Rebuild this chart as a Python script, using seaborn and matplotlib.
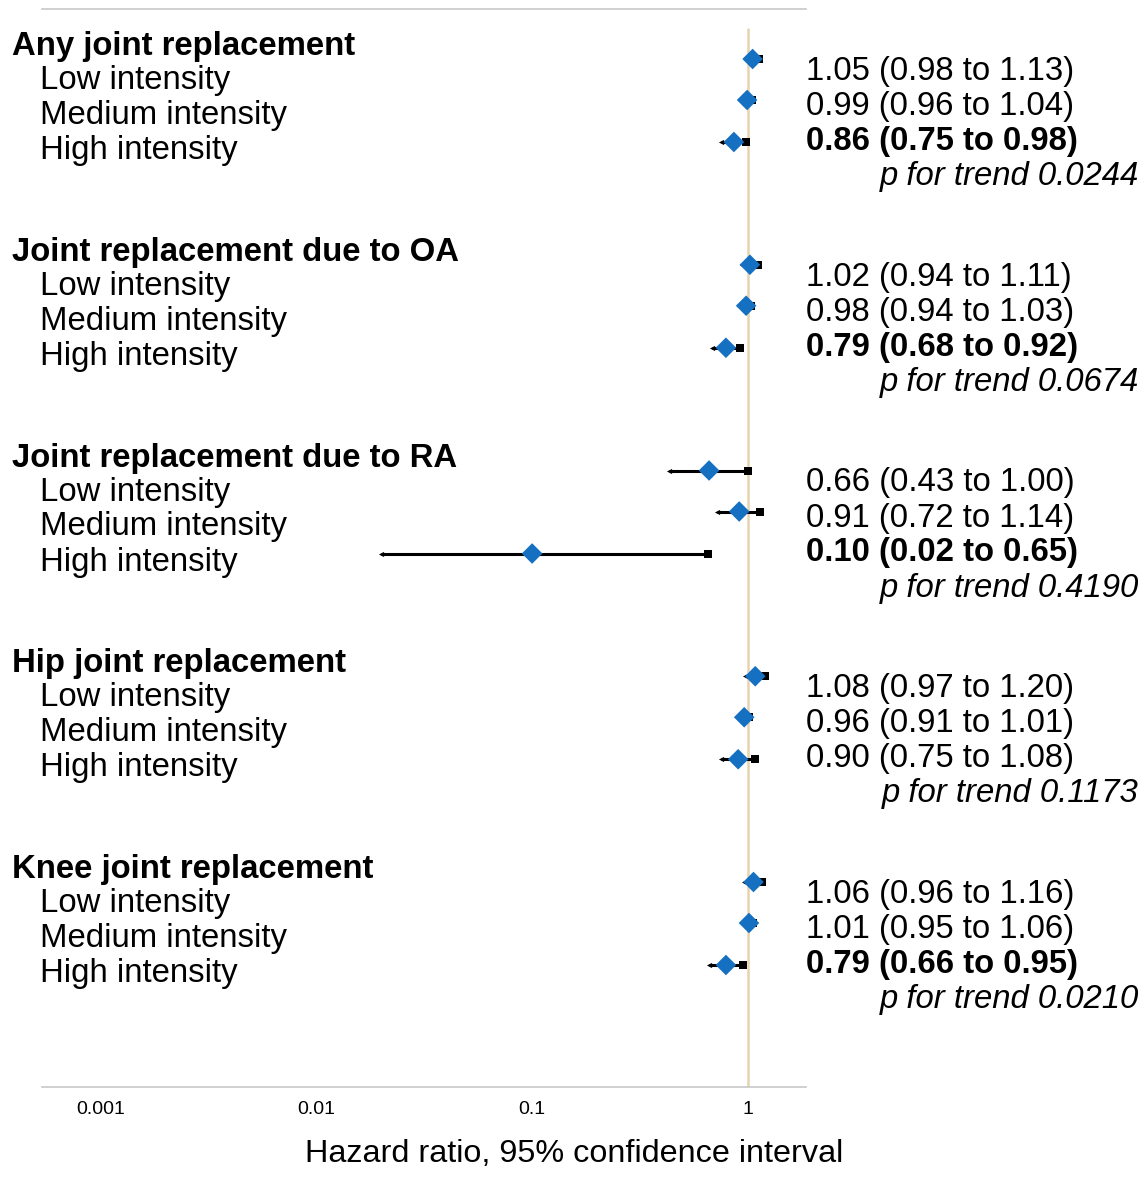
import matplotlib
matplotlib.use("Agg")
import matplotlib.pyplot as plt
import matplotlib.transforms as mtransforms
import seaborn as sns
import pandas as pd

# data
groups = ["Any joint replacement", "Joint replacement due to OA",
          "Joint replacement due to RA", "Hip joint replacement",
          "Knee joint replacement"]
levels = ["Low intensity", "Medium intensity", "High intensity"]
hr = [[1.05, 0.99, 0.86], [1.02, 0.98, 0.79], [0.66, 0.91, 0.10],
      [1.08, 0.96, 0.90], [1.06, 1.01, 0.79]]
ci_low = [[0.98, 0.96, 0.75], [0.94, 0.94, 0.68], [0.43, 0.72, 0.02],
          [0.97, 0.91, 0.75], [0.96, 0.95, 0.66]]
ci_high = [[1.13, 1.04, 0.98], [1.11, 1.03, 0.92], [1.00, 1.14, 0.65],
           [1.20, 1.01, 1.08], [1.16, 1.06, 0.95]]
p_trend = ["0.0244", "0.0674", "0.4190", "0.1173", "0.0210"]
xticks = [0.001, 0.01, 0.1, 1]
xticklabels = ["0.001", "0.01", "0.1", "1"]

sns.set_style("white")
plt.rcParams["font.family"] = ["Liberation Sans", "DejaVu Sans"]
plt.rcParams["text.color"] = "black"
plt.rcParams["xtick.color"] = "black"

W, H = 1148, 1177
fig = plt.figure(figsize=(W / 100, H / 100), dpi=100)
ax = fig.add_axes([42 / W, (H - 1087) / H, (806 - 42) / W, (1087 - 9) / H])
ax.set_xscale("log")
ax.set_xlim(10 ** -3.27, 10 ** 0.2685)
ax.set_ylim(1087, 9)  # y in pixel rows, top down

# layout (pixel rows)
group_step = 205.75
first_base = 55
mark_off = [4, 45, 87]
label_off = [34, 69, 104]
value_off = [25, 60, 95]
p_off = 130

rows = []
for g, name in enumerate(groups):
    base = first_base + g * group_step
    for k, lev in enumerate(levels):
        rows.append(dict(group=name, level=lev, hr=hr[g][k], lo=ci_low[g][k],
                         hi=ci_high[g][k], y=base + mark_off[k]))
df = pd.DataFrame(rows)

# reference line at HR = 1
ax.vlines(1, 28, 1087, color="#e6d2b0", lw=1.8, zorder=1)

# confidence intervals
ax.hlines(df["y"], df["lo"], df["hi"], color="black", lw=2.2, zorder=2)
ax.scatter(df["hi"], df["y"], marker="s", s=30, color="black", zorder=3, lw=0)
ax.scatter(df["lo"], df["y"], marker="<", s=14, color="black", zorder=3, lw=0)
sns.scatterplot(data=df, x="hr", y="y", marker="D", s=110, color="#1670c2",
                edgecolor="none", zorder=4, ax=ax, legend=False)

# texts
tr = mtransforms.blended_transform_factory(fig.transFigure, ax.transData)
fs = 23.7
for g, name in enumerate(groups):
    base = first_base + g * group_step
    ax.text(12 / W, base, name, transform=tr, fontsize=fs, fontweight="bold",
            va="baseline", ha="left", clip_on=False)
    for k, lev in enumerate(levels):
        ax.text(40 / W, base + label_off[k], lev, transform=tr, fontsize=fs,
                va="baseline", ha="left", clip_on=False)
        txt = f"{hr[g][k]:.2f} ({ci_low[g][k]:.2f} to {ci_high[g][k]:.2f})"
        bold = ci_high[g][k] < 1
        ax.text(806 / W, base + value_off[k], txt, transform=tr, fontsize=fs,
                fontweight="bold" if bold else "normal",
                va="baseline", ha="left", clip_on=False)
    ax.text(1139 / W, base + p_off, f"p for trend {p_trend[g]}", transform=tr,
            fontsize=fs, style="italic", va="baseline", ha="right", clip_on=False)

# axes styling
ax.set_yticks([])
ax.set_xticks(xticks)
ax.set_xticklabels(xticklabels, fontsize=14)
ax.minorticks_off()
ax.tick_params(axis="x", length=0, pad=10)
for side in ["left", "right"]:
    ax.spines[side].set_visible(False)
for side in ["top", "bottom"]:
    ax.spines[side].set_color("#c8c8c8")
    ax.spines[side].set_linewidth(1.2)
ax.set_ylabel("")
ax.set_xlabel("")
fig.text(574 / W, (H - 1162) / H, "Hazard ratio, 95% confidence interval",
         fontsize=23.3, ha="center", va="baseline")

fig.savefig("out.png", dpi=100)
